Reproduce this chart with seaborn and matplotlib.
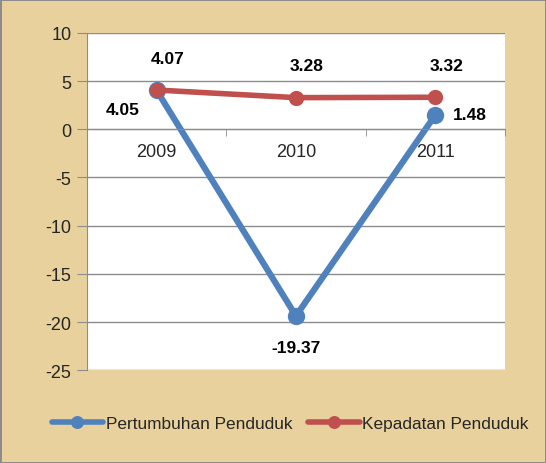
import numpy as np
import pandas as pd
import seaborn as sns
import matplotlib.pyplot as plt

# data
years = ["2009", "2010", "2011"]
pertumbuhan = [4.05, -19.37, 1.48]
kepadatan = [4.07, 3.28, 3.32]

df = pd.DataFrame({
    "idx": list(range(len(years))) * 2,
    "value": pertumbuhan + kepadatan,
    "series": ["Pertumbuhan Penduduk"] * 3 + ["Kepadatan Penduduk"] * 3,
})

sns.set_style("white")
plt.rcParams['font.family'] = ['Liberation Sans Narrow', 'Liberation Sans', 'DejaVu Sans']
plt.rcParams['axes.unicode_minus'] = False

fig = plt.figure(figsize=(5.46, 4.64), dpi=100, facecolor="#E8D19C")
fig.patch.set_edgecolor("#8C8C8C")
fig.patch.set_linewidth(2)
ax = fig.add_axes([0.159, 0.200, 0.766, 0.727])

palette = {"Pertumbuhan Penduduk": "#4F81BD", "Kepadatan Penduduk": "#C0504D"}
sns.lineplot(data=df, x="idx", y="value", hue="series", palette=palette,
             marker="o", markersize=11, linewidth=4, markeredgewidth=0, ax=ax)
# blue markers slightly larger, like the original
ax.lines[0].set_markersize(12.5)
ax.lines[0].set_linewidth(4.5)

ax.set_xlim(-0.5, 2.5)
ax.set_ylim(-25, 10)
ax.set_yticks(range(-25, 11, 5))
ax.yaxis.grid(True, color="#8C8C8C", linewidth=1)
ax.tick_params(axis="y", left=True, length=7, color="#8C8C8C", labelsize=13, pad=4)
ax.set_xlabel("")
ax.set_ylabel("")

# x axis drawn at zero
ax.spines["bottom"].set_position(("data", 0))
ax.spines["bottom"].set_color("#8C8C8C")
ax.spines["left"].set_color("#8C8C8C")
ax.spines["top"].set_visible(False)
ax.spines["right"].set_visible(False)
ax.set_xticks(range(len(years)))
ax.set_xticklabels(years)
ax.set_xticks([-0.5, 0.5, 1.5, 2.5], minor=True)
ax.tick_params(axis="x", which="major", length=0, labelsize=13, pad=10)
ax.tick_params(axis="x", which="minor", bottom=True, length=5, color="#8C8C8C")

# data labels
lbl = dict(fontsize=12.5, fontweight="bold", color="black", ha="center", va="center",
           textcoords="offset points")
ax.annotate(f"{pertumbuhan[0]:.2f}", (0, pertumbuhan[0]), xytext=(-24, -14), **lbl)
ax.annotate(f"{pertumbuhan[1]:.2f}", (1, pertumbuhan[1]), xytext=(0, -23), **lbl)
ax.annotate(f"{pertumbuhan[2]:.2f}", (2, pertumbuhan[2]), xytext=(25, 0), **lbl)
for i, v in enumerate(kepadatan):
    ax.annotate(f"{v:.2f}", (i, v), xytext=(8, 23), **lbl)

ax.legend(loc="center", bbox_to_anchor=(0.486, -0.157), ncol=2, frameon=False,
          fontsize=12.4, handlelength=3.0, handletextpad=0.15, columnspacing=0.9,
          markerscale=0.85)

fig.savefig("out.png", dpi=100, facecolor=fig.get_facecolor(), edgecolor=fig.get_edgecolor())
